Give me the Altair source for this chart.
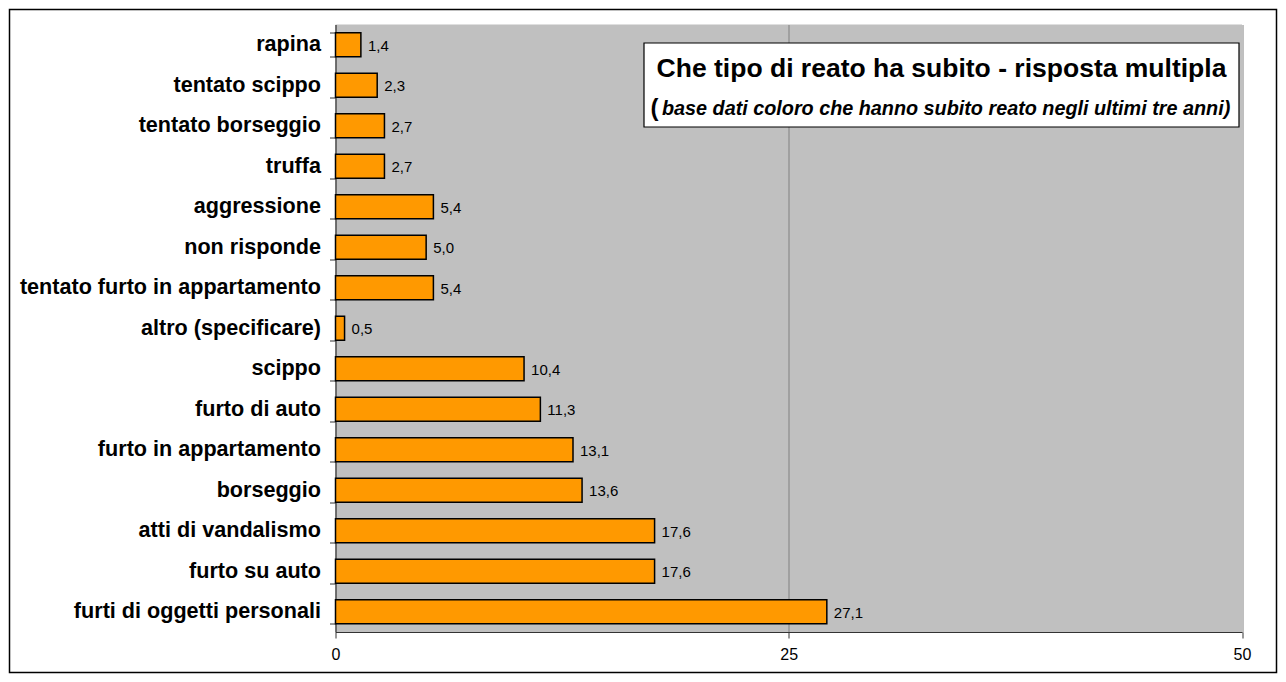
import altair as alt
import pandas as pd

categories = [
    "rapina", "tentato scippo", "tentato borseggio", "truffa", "aggressione",
    "non risponde", "tentato furto in appartamento", "altro (specificare)",
    "scippo", "furto di auto", "furto in appartamento", "borseggio",
    "atti di vandalismo", "furto su auto", "furti di oggetti personali",
]
values = [1.4, 2.3, 2.7, 2.7, 5.4, 5.0, 5.4, 0.5, 10.4, 11.3, 13.1, 13.6, 17.6, 17.6, 27.1]
x_ticks = [0, 25, 50]

title_main = "Che tipo di reato ha subito - risposta multipla"
title_sub = "base dati coloro che hanno subito reato negli ultimi tre anni)"

df = pd.DataFrame({"cat": categories, "val": values})

FONT = "Liberation Sans"
W, H = 906.5, 607.5
L, T, R, B = 327.5, 16.5, 36, 42

x = alt.X("val:Q", scale=alt.Scale(domain=[0, 50], nice=False),
          axis=alt.Axis(values=x_ticks, title=None, grid=True, gridColor="#808080",
                        gridWidth=1, domainColor="#333333", tickColor="#333333",
                        tickSize=6, labelFont=FONT, labelFontSize=16, labelColor="black",
                        labelPadding=8, labelFlush=False))
y = alt.Y("cat:N", sort=categories,
          scale=alt.Scale(paddingInner=0.41, paddingOuter=0.205),
          axis=alt.Axis(title=None, tickBand="extent", tickSize=6, tickColor="#333333",
                        domainColor="#333333", labelFont=FONT, labelFontSize=21.6,
                        labelFontWeight="bold", labelColor="black", labelPadding=9,
                        labelLimit=400))

bars = alt.Chart(df).mark_bar(color="#FF9900", stroke="black", strokeWidth=1.5).encode(x=x, y=y)

labels = alt.Chart(df).transform_calculate(
    lbl="replace(format(datum.val, '.1f'), '.', ',')"
).mark_text(align="left", baseline="middle", dx=7, dy=1, font=FONT, fontSize=15, color="black").encode(
    x="val:Q", y=alt.Y("cat:N", sort=categories), text="lbl:N")

box = alt.Chart(pd.DataFrame({"a": [0]})).mark_rect(fill="white", stroke="black", strokeWidth=1.2).encode(
    x=alt.value(308.5), x2=alt.value(903.5), y=alt.value(18.5), y2=alt.value(102.5))

t1 = alt.Chart(pd.DataFrame({"t": [title_main]})).mark_text(
    font=FONT, fontSize=26.5, fontWeight="bold", align="center", baseline="alphabetic", color="black"
).encode(x=alt.value(606), y=alt.value(52), text="t:N")

paren = alt.Chart(pd.DataFrame({"t": ["("]})).mark_text(
    font=FONT, fontSize=24, fontWeight="bold", align="left", baseline="alphabetic", color="black"
).encode(x=alt.value(315), y=alt.value(91), text="t:N")

t2 = alt.Chart(pd.DataFrame({"t": [title_sub]})).mark_text(
    font=FONT, fontSize=19.8, fontWeight="bold", fontStyle="italic", align="left",
    baseline="alphabetic", color="black"
).encode(x=alt.value(326.5), y=alt.value(90.5), text="t:N")

border = alt.Chart(pd.DataFrame({"a": [0]})).mark_rect(fill=None, stroke="black", strokeWidth=1.5).encode(
    x=alt.value(-L + 1.5), x2=alt.value(W + R - 1.5), y=alt.value(-T + 1.5), y2=alt.value(H + B - 1.5))

chart = alt.layer(border, bars, labels, box, t1, paren, t2).properties(
    width=W, height=H, padding={"left": L, "top": T, "right": R, "bottom": B},
    autosize=alt.AutoSizeParams(type="none"), background="white",
).configure_view(fill="#C0C0C0", stroke=None)

chart.save("out.html", embed_options={"renderer": "svg", "actions": False})
